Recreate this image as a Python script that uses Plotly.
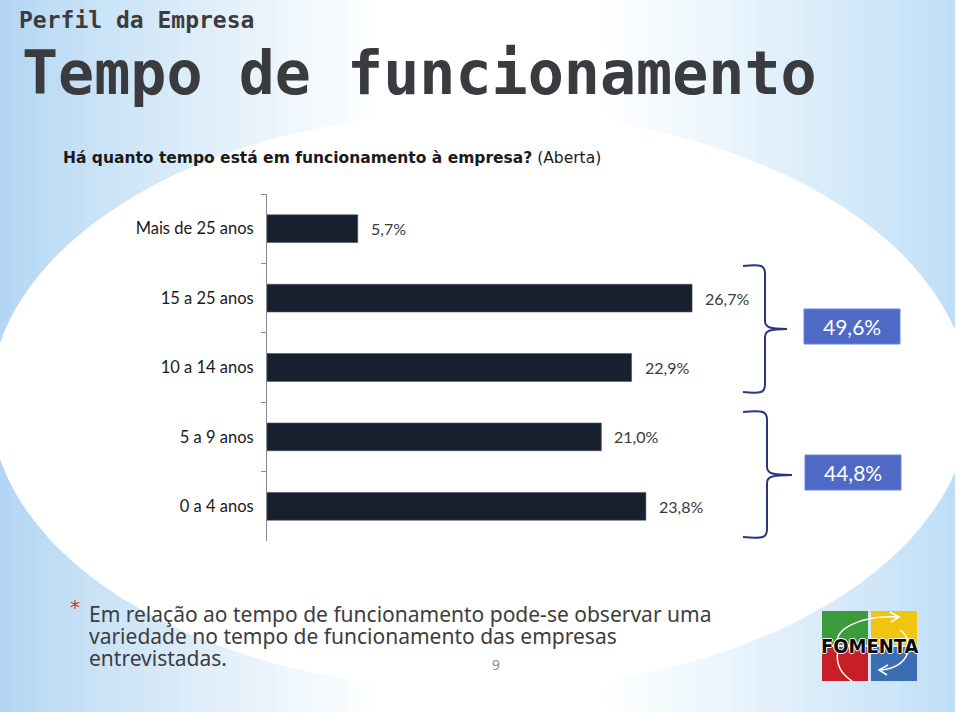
import plotly.graph_objects as go

# ---------------- data ----------------
categories = ["Mais de 25 anos", "15 a 25 anos", "10 a 14 anos", "5 a 9 anos", "0 a 4 anos"]
values = [5.7, 26.7, 22.9, 21.0, 23.8]
groups = [["15 a 25 anos", "10 a 14 anos"], ["5 a 9 anos", "0 a 4 anos"]]

title_small = "Perfil da Empresa"
title_big = "Tempo de funcionamento"
question_bold = "Há quanto tempo está em funcionamento à empresa?"
question_rest = " (Aberta)"
note_lines = ["Em relação ao tempo de funcionamento pode-se observar uma",
              "variedade no tempo de funcionamento das empresas",
              "entrevistadas."]
page_no = "9"

W, H = 960, 716


def px(x):
    return x / W


def py(y):
    return 1 - y / H


def fmt(v):
    return f"{v:.1f}".replace(".", ",") + "%"


shapes = []
annotations = []

# ---------------- background ----------------
edgeL = (176, 213, 243)
edgeR = (188, 221, 246)


def lerp(a, b, t):
    return tuple(int(round(a[i] + (b[i] - a[i]) * t)) for i in range(3))


step = 12
for i in range(0, W, step):
    xc = i + step / 2
    if xc < 380:
        c = lerp(edgeL, (255, 255, 255), min(1, (xc / 380) ** 0.85))
    elif xc > 600:
        c = lerp(edgeR, (255, 255, 255), min(1, ((W - xc) / 360) ** 0.85))
    else:
        c = (255, 255, 255)
    shapes.append(dict(type="rect", xref="paper", yref="paper", layer="below",
                       x0=px(i), x1=px(i + step + 1), y0=0, y1=1,
                       fillcolor=f"rgb{c}", line=dict(width=0)))

# white ellipse
shapes.append(dict(type="circle", xref="paper", yref="paper", layer="below",
                   x0=px(-10), x1=px(970), y0=py(690), y1=py(112),
                   fillcolor="white", line=dict(width=0)))
# white slide edges
shapes.append(dict(type="rect", xref="paper", yref="paper", layer="below",
                   x0=px(955), x1=1, y0=0, y1=1, fillcolor="white", line=dict(width=0)))
shapes.append(dict(type="rect", xref="paper", yref="paper", layer="below",
                   x0=0, x1=1, y0=0, y1=py(712), fillcolor="white", line=dict(width=0)))

# ---------------- titles ----------------
annotations.append(dict(text=title_small, xref="paper", yref="paper", x=px(17), y=py(20),
                        xanchor="left", yanchor="middle", showarrow=False,
                        font=dict(family="DejaVu Sans Mono", size=23, color="#3c3c3c", weight="bold")))
annotations.append(dict(text=title_big, xref="paper", yref="paper", x=px(419), y=py(73),
                        xanchor="center", yanchor="middle", showarrow=False,
                        font=dict(family="DejaVu Sans Mono", size=60, color="#3a3b3f", weight="bold")))

# question
annotations.append(dict(text=f"<b>{question_bold}</b>{question_rest}", xref="paper", yref="paper",
                        x=px(61), y=py(158), xanchor="left", yanchor="middle", showarrow=False,
                        font=dict(family="DejaVu Sans", size=15.5, color="#1a1a1a")))

# ---------------- chart ----------------
fig = go.Figure(go.Bar(x=values, y=categories, orientation="h", width=0.4,
                       marker=dict(color="#17202f", line=dict(color="#46505c", width=0.6)),
                       hoverinfo="skip"))

for c, v in zip(categories, values):
    annotations.append(dict(x=v, y=c, xref="x", yref="y", text=fmt(v), showarrow=False,
                            xanchor="left", yanchor="middle", xshift=11,
                            font=dict(family="Lato", size=16, color="#3a3a3a")))

# brackets and totals
brackets = [dict(top=266, bot=392, spine=765, tip=787, tipy=329, box=(804, 309, 900, 344)),
            dict(top=412, bot=537, spine=767, tip=792, tipy=475, box=(805, 455, 901, 490))]
for g, b in zip(groups, brackets):
    total = sum(values[categories.index(c)] for c in g)
    xs, xt = b["spine"], b["tip"]
    x0 = 743
    path = (f"M {px(x0)},{py(b['top'])} "
            f"C {px(xs - 2)},{py(b['top'] - 2)} {px(xs)},{py(b['top'])} {px(xs)},{py(b['top'] + 8)} "
            f"L {px(xs)},{py(b['tipy'] - 8)} "
            f"C {px(xs)},{py(b['tipy'] - 2)} {px(xs + 4)},{py(b['tipy'])} {px(xt)},{py(b['tipy'])} "
            f"C {px(xs + 4)},{py(b['tipy'])} {px(xs)},{py(b['tipy'] + 2)} {px(xs)},{py(b['tipy'] + 8)} "
            f"L {px(xs)},{py(b['bot'] - 8)} "
            f"C {px(xs)},{py(b['bot'])} {px(xs - 2)},{py(b['bot'] + 2)} {px(x0)},{py(b['bot'])}")
    shapes.append(dict(type="path", xref="paper", yref="paper", path=path,
                       line=dict(color="#27367f", width=2)))
    bx0, by0, bx1, by1 = b["box"]
    shapes.append(dict(type="rect", xref="paper", yref="paper", x0=px(bx0), x1=px(bx1),
                       y0=py(by1), y1=py(by0), fillcolor="#4e69c6",
                       line=dict(color="#6d86d4", width=1)))
    annotations.append(dict(text=fmt(total), xref="paper", yref="paper",
                            x=px((bx0 + bx1) / 2), y=py((by0 + by1) / 2), showarrow=False,
                            xanchor="center", yanchor="middle",
                            font=dict(family="Lato", size=21, color="white")))

# ---------------- footnote ----------------
annotations.append(dict(text="*", xref="paper", yref="paper", x=px(68), y=py(607),
                        xanchor="left", yanchor="middle", showarrow=False,
                        font=dict(family="DejaVu Sans", size=20, color="#c0392b")))
for i, line in enumerate(note_lines):
    annotations.append(dict(text=line, xref="paper", yref="paper", x=px(87), y=py(614 + 22 * i),
                            xanchor="left", yanchor="middle", showarrow=False,
                            font=dict(family="Noto Sans", size=21, color="#3d3d3d")))
annotations.append(dict(text=page_no, xref="paper", yref="paper", x=px(496), y=py(664),
                        xanchor="center", yanchor="middle", showarrow=False,
                        font=dict(family="Noto Sans", size=14, color="#8a8a8a")))

# ---------------- logo ----------------
logo = [(822, 611, 868, 645, "#3a9a3c"), (871, 611, 917, 645, "#f1c40f"),
        (822, 647, 868, 681, "#c62026"), (871, 647, 917, 681, "#3b6db3")]
for x0, y0, x1, y1, col in logo:
    shapes.append(dict(type="rect", xref="paper", yref="paper", x0=px(x0), x1=px(x1),
                       y0=py(y1), y1=py(y0), fillcolor=col, line=dict(width=0)))
arc1 = (f"M {px(838)},{py(645)} C {px(832)},{py(630)} {px(860)},{py(615)} {px(898)},{py(617)}")
arc2 = (f"M {px(900)},{py(630)} C {px(915)},{py(640)} {px(912)},{py(668)} {px(880)},{py(670)}")
arc3 = (f"M {px(852)},{py(681)} C {px(838)},{py(672)} {px(836)},{py(660)} {px(838)},{py(650)}")
for p in (arc1, arc2, arc3):
    shapes.append(dict(type="path", xref="paper", yref="paper", path=p,
                       line=dict(color="white", width=1.5)))
for p in (f"M {px(890)},{py(612)} L {px(899)},{py(617)} L {px(891)},{py(622)}",
          f"M {px(888)},{py(665)} L {px(879)},{py(670)} L {px(887)},{py(675)}"):
    shapes.append(dict(type="path", xref="paper", yref="paper", path=p,
                       line=dict(color="white", width=1.5)))
annotations.append(dict(text="<b>FOMENTA</b>", xref="paper", yref="paper", x=px(869.5), y=py(646),
                        xanchor="center", yanchor="middle", showarrow=False,
                        font=dict(family="DejaVu Sans Condensed, Liberation Sans Narrow, DejaVu Sans",
                                  size=20, color="#0a0a0a",
                                  shadow="1px 0 0 white, -1px 0 0 white, 0 1px 0 white, 0 -1px 0 white")))

# ---------------- layout ----------------
fig.update_layout(
    width=W, height=H, margin=dict(l=0, r=0, t=0, b=0),
    paper_bgcolor="white", plot_bgcolor="rgba(0,0,0,0)",
    showlegend=False, shapes=shapes, annotations=annotations,
    xaxis=dict(domain=[px(267), px(267 + 30 * 15.92)], range=[0, 30], visible=False, fixedrange=True),
    yaxis=dict(domain=[py(541), py(194)], type="category", categoryorder="array",
               categoryarray=categories, range=[4.5, -0.5],
               showline=True, linecolor="#8c8c8c", linewidth=1,
               ticks="outside", tickson="boundaries", ticklen=5, tickcolor="#8c8c8c",
               showgrid=False, zeroline=False, ticklabelstandoff=9,
               tickfont=dict(family="Lato", size=16.5, color="#1a1a1a"), fixedrange=True),
)

fig.write_html("out.html", config={"displayModeBar": False},
               post_script="document.body.style.margin='0px';document.body.style.overflow='hidden';")
